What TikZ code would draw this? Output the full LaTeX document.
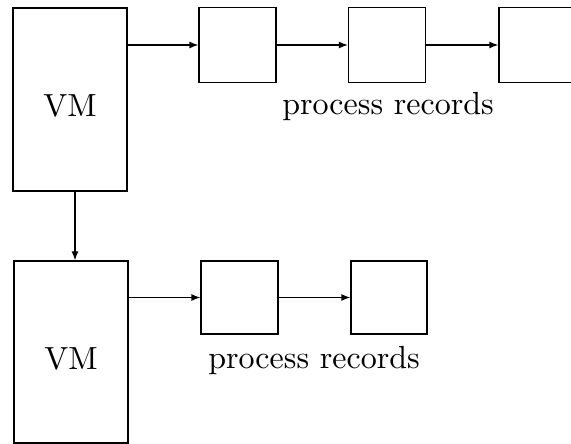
\documentclass[tikz,border=0pt]{standalone}
\usetikzlibrary{arrows.meta}

\newcommand{\bigtext}[1]{\scalebox{3.2}{#1}}

\begin{document}
\begin{tikzpicture}[x=1pt, y=-1pt, line width=1.3pt,
		vmbox/.style={draw, minimum width=114pt, minimum height=183pt, inner sep=0pt, text height=35pt, text depth=0pt},
		recbox/.style={draw, minimum width=77pt, minimum height=75pt, inner sep=0pt},
		link/.style={-{Latex[length=9pt, width=7pt]}}]

				\useasboundingbox (0,0) rectangle (571,444);
				\clip (0,0) rectangle (571,444);

				% first VM and its process records
				\node [vmbox] (vm1) at (70,99.5) {\bigtext{VM}};
				\node [recbox] (rec1) at (237.5,45) {};
				\node [recbox] (rec2) at (387,45) {};
				\node [recbox] (rec3) at (537.5,45) {};
				\node [anchor=base] (lbl1) at (388,115) {\bigtext{process records}};

				\draw [link] (vm1.east |- rec1) -- (rec1);
				\draw [link] (rec1) -- (rec2);
				\draw [link] (rec2) -- (rec3);

				% second VM
				\node [vmbox, minimum height=182pt] (vm2) at (71,352) {\bigtext{VM}};
				\node [recbox, minimum height=73pt] (rec4) at (239.5,297.5) {};
				\node [recbox, minimum width=76pt, minimum height=73pt] (rec5) at (389,297.5) {};
				\node [anchor=base] (lbl2) at (314,368) {\bigtext{process records}};

				\draw [link] ([xshift=5pt]vm1.south) -- ([xshift=5pt]vm1.south |- vm2.north);
				\draw [link] (vm2.east |- rec4) -- (rec4);
				\draw [link] (rec4) -- (rec5);
			\end{tikzpicture}
\end{document}
